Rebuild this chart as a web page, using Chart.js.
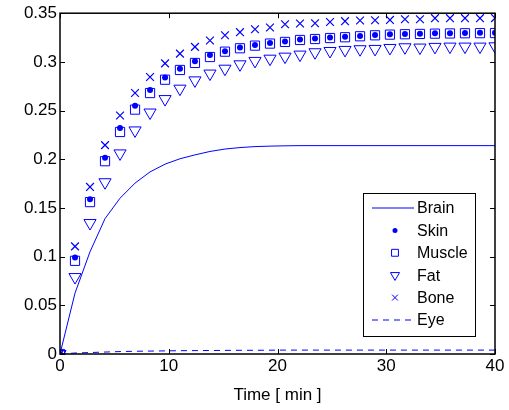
<!DOCTYPE html>
<html>
<head>
<meta charset="utf-8">
<script src="https://cdn.jsdelivr.net/npm/chart.js@4.4.0/dist/chart.umd.min.js"></script>
<style>
  html, body { margin: 0; padding: 0; background: #fff; }
  #wrap { width: 509px; height: 410px; }
</style>
</head>
<body>
<div id="wrap"><canvas id="c" width="509" height="410"></canvas></div>
<script>
// Data
const times = [0, 1.38, 2.76, 4.14, 5.52, 6.9, 8.28, 9.66, 11.03, 12.41, 13.79, 15.17, 16.55, 17.93, 19.31,
  20.69, 22.07, 23.45, 24.83, 26.21, 27.59, 28.97, 30.34, 31.72, 33.1, 34.48, 35.86, 37.24, 38.62, 40];
const brain = [0, 0.0625, 0.105, 0.139, 0.160, 0.1755, 0.187, 0.195, 0.2005, 0.2045, 0.2080, 0.2105, 0.2120, 0.2130, 0.2135,
  0.2138, 0.2140, 0.2140, 0.2140, 0.2140, 0.2140, 0.2140, 0.2140, 0.2140, 0.2140, 0.2140, 0.2140, 0.2140, 0.2140, 0.2140];
const skin = [0, 0.099, 0.159, 0.2015, 0.232, 0.255, 0.271, 0.284, 0.293, 0.3006, 0.307, 0.311, 0.3147, 0.3174, 0.3195,
  0.321, 0.323, 0.324, 0.325, 0.3257, 0.3267, 0.3277, 0.3284, 0.3287, 0.329, 0.3293, 0.3295, 0.3297, 0.3298, 0.33];
const muscle = [0, 0.0957, 0.156, 0.198, 0.228, 0.251, 0.268, 0.2817, 0.2917, 0.2989, 0.305, 0.3105, 0.314, 0.3167, 0.3188,
  0.3205, 0.3225, 0.3235, 0.3245, 0.3253, 0.3263, 0.3273, 0.328, 0.3284, 0.3287, 0.329, 0.3292, 0.3294, 0.3295, 0.3296];
const fat = [0, 0.079, 0.1345, 0.1764, 0.206, 0.2296, 0.248, 0.2618, 0.2725, 0.281, 0.288, 0.293, 0.2975, 0.301, 0.3033,
  0.3054, 0.3075, 0.3099, 0.3112, 0.3123, 0.313, 0.3133, 0.3143, 0.315, 0.3147, 0.3154, 0.3157, 0.3157, 0.3157, 0.316];
const bone = [0, 0.1105, 0.1716, 0.2145, 0.245, 0.268, 0.2845, 0.2985, 0.3085, 0.3154, 0.322, 0.3274, 0.3305, 0.3335, 0.3353,
  0.3387, 0.3394, 0.3397, 0.341, 0.3418, 0.3425, 0.3428, 0.3431, 0.3438, 0.3438, 0.3449, 0.3449, 0.3449, 0.3449, 0.345];
const eye = [0, 0.001, 0.0015, 0.002, 0.0025, 0.0028, 0.003, 0.0032, 0.0034, 0.0035, 0.0036, 0.0037, 0.0038, 0.0038, 0.0039,
  0.004, 0.004, 0.004, 0.004, 0.004, 0.004, 0.004, 0.004, 0.004, 0.004, 0.004, 0.004, 0.004, 0.004, 0.004];
const xTicks = [0, 10, 20, 30, 40];
const yTicks = [0, 0.05, 0.1, 0.15, 0.2, 0.25, 0.3, 0.35];

const BLUE = '#0000ff';
const FONT = '"Liberation Sans", Arial, sans-serif';

function pts(vals) { return vals.map((v, i) => ({ x: times[i], y: v })); }

const datasets = [
  { label: 'Brain', data: pts(brain), borderColor: BLUE, borderWidth: 1, pointRadius: 0, showLine: true, fill: false },
  { label: 'Skin', data: pts(skin), showLine: false, pointStyle: 'circle', pointRadius: 3, backgroundColor: BLUE, borderColor: BLUE, pointBorderWidth: 0 },
  { label: 'Muscle', data: pts(muscle), showLine: false, pointStyle: 'rect', pointRadius: 6.5, backgroundColor: 'rgba(0,0,0,0)', borderColor: BLUE, pointBorderWidth: 1 },
  { label: 'Fat', data: pts(fat), showLine: false, pointStyle: 'triangle', pointRotation: 180, pointRadius: 7, backgroundColor: 'rgba(0,0,0,0)', borderColor: BLUE, pointBorderWidth: 1 },
  { label: 'Bone', data: pts(bone), showLine: false, pointStyle: 'crossRot', pointRadius: 5.5, borderColor: BLUE, pointBorderWidth: 1.2 },
  { label: 'Eye', data: pts(eye), borderColor: BLUE, borderWidth: 1, borderDash: [6, 5], pointRadius: 0, showLine: true, fill: false }
];

// box, inward ticks (both sides) and the legend
const matlabAxes = {
  id: 'matlabAxes',
  afterDraw(chart) {
    const ctx = chart.ctx;
    const a = chart.chartArea;
    const xs = chart.scales.x, ys = chart.scales.y;
    ctx.save();
    ctx.strokeStyle = '#000';
    ctx.lineWidth = 1;
    ctx.beginPath();
    xTicks.forEach(t => {
      const px = Math.round(xs.getPixelForValue(t)) + 0.5;
      ctx.moveTo(px, a.bottom); ctx.lineTo(px, a.bottom - 5);
      ctx.moveTo(px, a.top); ctx.lineTo(px, a.top + 5);
    });
    yTicks.forEach(t => {
      const py = Math.round(ys.getPixelForValue(t)) + 0.5;
      ctx.moveTo(a.left, py); ctx.lineTo(a.left + 5, py);
      ctx.moveTo(a.right, py); ctx.lineTo(a.right - 5, py);
    });
    ctx.stroke();
    ctx.lineWidth = 1.5;
    ctx.strokeRect(a.left, a.top, a.right - a.left, a.bottom - a.top);

    // legend
    const lx = 363.5, ly = 193.5, lw = 112, lh = 143;
    ctx.fillStyle = '#fff';
    ctx.fillRect(lx, ly, lw, lh);
    ctx.lineWidth = 1;
    ctx.strokeStyle = '#000';
    ctx.strokeRect(lx, ly, lw, lh);
    ctx.font = '16px ' + FONT;
    ctx.textBaseline = 'middle';
    ctx.textAlign = 'left';
    chart.data.datasets.forEach((ds, i) => {
      const y = 208 + i * 22.4;
      const sx = 395;
      ctx.strokeStyle = BLUE;
      ctx.lineWidth = 1;
      if (ds.showLine) {
        ctx.setLineDash(ds.borderDash || []);
        ctx.beginPath(); ctx.moveTo(372, y); ctx.lineTo(414, y); ctx.stroke();
        ctx.setLineDash([]);
      } else {
        ctx.fillStyle = ds.label === 'Skin' ? BLUE : 'rgba(0,0,0,0)';
        Chart.helpers.drawPoint(ctx, {
          pointStyle: ds.pointStyle,
          rotation: ds.pointRotation || 0,
          radius: ds.label === 'Skin' ? 2.5 : ds.pointRadius * 0.75,
          borderWidth: ds.pointBorderWidth
        }, sx, y);
      }
      ctx.fillStyle = '#000';
      ctx.fillText(ds.label, 417, y + 1);
    });
    ctx.restore();
  }
};

new Chart(document.getElementById('c'), {
  type: 'scatter',
  data: { datasets },
  options: {
    responsive: false,
    animation: false,
    layout: { padding: { left: 0, right: 14, top: 12, bottom: 0 } },
    plugins: { legend: { display: false }, tooltip: { enabled: false } },
    scales: {
      x: {
        type: 'linear', min: 0, max: 40,
        afterBuildTicks: s => { s.ticks = xTicks.map(v => ({ value: v })); },
        afterFit: s => { s.height = 56; },
        grid: { display: false, drawTicks: false },
        border: { display: false },
        ticks: { color: '#000', font: { family: FONT, size: 17 }, padding: 2, maxRotation: 0 },
        title: { display: true, text: 'Time [ min ]', color: '#000', font: { family: FONT, size: 17 }, padding: { top: 0, bottom: 4 } }
      },
      y: {
        type: 'linear', min: 0, max: 0.35,
        afterBuildTicks: s => { s.ticks = yTicks.map(v => ({ value: v })); },
        afterFit: s => { s.width = 60; },
        grid: { display: false, drawTicks: false },
        border: { display: false },
        ticks: { color: '#000', font: { family: FONT, size: 17 }, padding: 3, callback: v => String(+v.toFixed(2)) }
      }
    }
  },
  plugins: [matlabAxes]
});
</script>
</body>
</html>
